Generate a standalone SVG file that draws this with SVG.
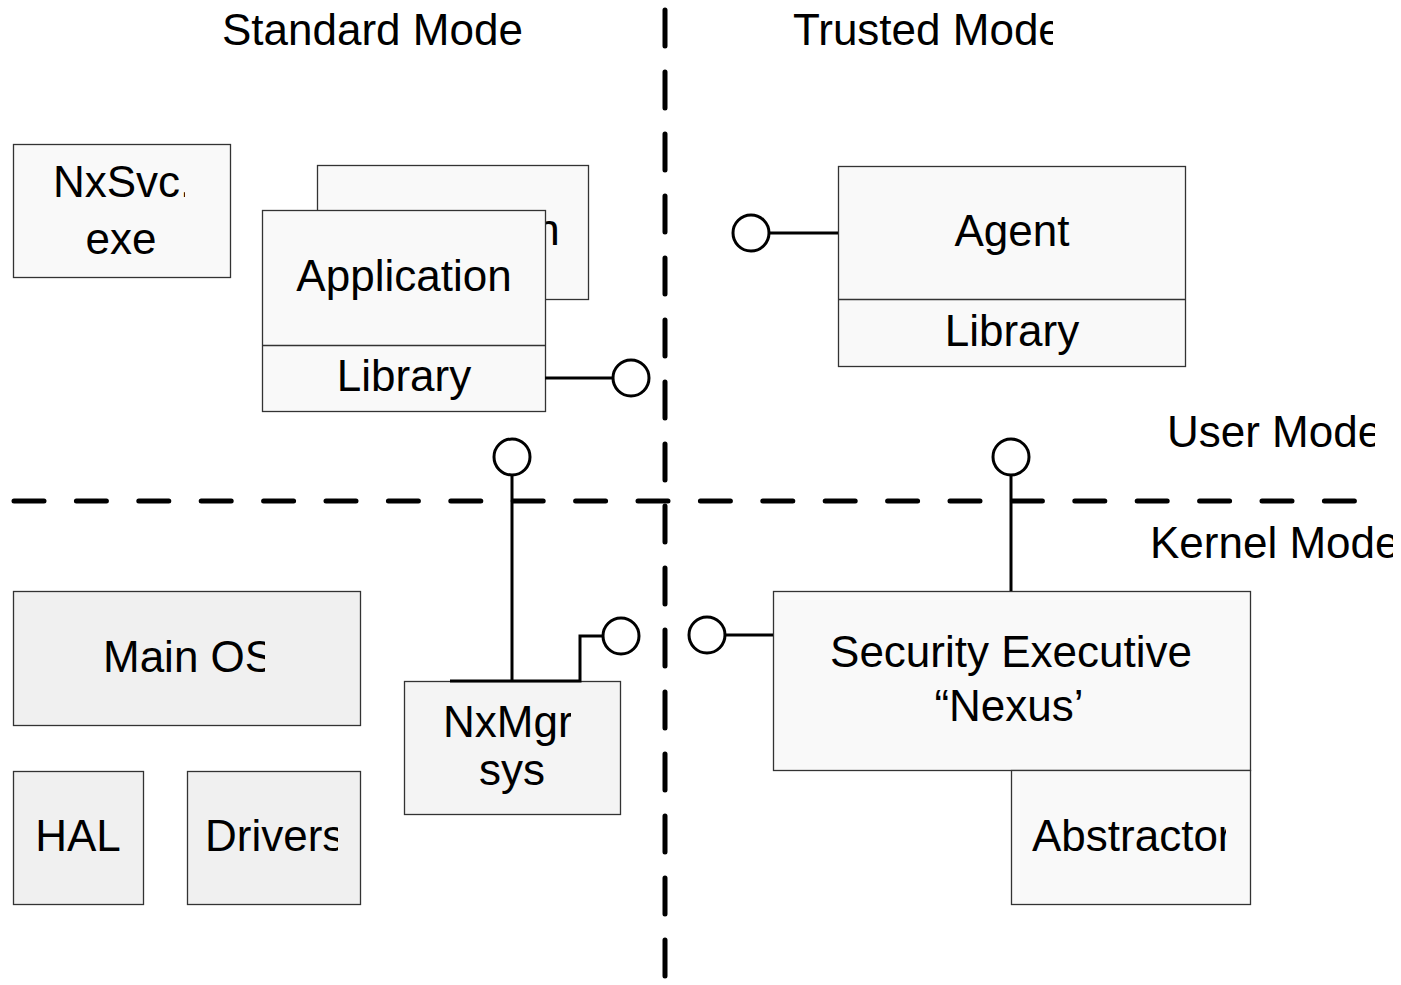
<svg xmlns="http://www.w3.org/2000/svg" width="1401" height="985" viewBox="0 0 1401 985">
  <style>
    text { font-family: "Liberation Sans", Arial, sans-serif; font-size: 44px; fill: #000; }
    .mid { text-anchor: middle; }
    .box { fill: #f9f9f9; stroke: #333; stroke-width: 1.3; }
    .gray { fill: #f0f0f0; stroke: #333; stroke-width: 1.3; }
    .mgr { fill: #f4f4f4; stroke: #333; stroke-width: 1.3; }
    .wire { fill: none; stroke: #000; stroke-width: 3; }
    .port { fill: #fff; stroke: #000; stroke-width: 3; }
    .boundary { fill: none; stroke: #000; stroke-width: 5; stroke-linecap: round; }
  </style>
  <defs>
    <clipPath id="clipTrusted"><rect x="780" y="0" width="273" height="60"/></clipPath>
    <clipPath id="clipUser"><rect x="1150" y="400" width="225" height="60"/></clipPath>
    <clipPath id="clipKernel"><rect x="1140" y="510" width="253" height="60"/></clipPath>
    <clipPath id="clipSvc"><rect x="40" y="150" width="145" height="60"/></clipPath>
    <clipPath id="clipMainOS"><rect x="90" y="620" width="175" height="70"/></clipPath>
    <clipPath id="clipDrivers"><rect x="195" y="800" width="143" height="70"/></clipPath>
    <clipPath id="clipMgr"><rect x="420" y="690" width="151" height="60"/></clipPath>
    <clipPath id="clipAbs"><rect x="1020" y="800" width="206" height="70"/></clipPath>
    <clipPath id="clipBackApp"><rect x="318" y="166" width="270" height="133"/></clipPath>
  </defs>

  <rect width="1401" height="985" fill="#fff"/>

  <!-- mode boundaries -->
  <g id="boundaries">
    <line class="boundary" x1="665" y1="10" x2="665" y2="985" stroke-dasharray="36 26"/>
    <line class="boundary" x1="14" y1="501" x2="1356" y2="501" stroke-dasharray="30 32.4"/>
  </g>

  <!-- region titles -->
  <g id="labels">
    <text x="222" y="45">Standard Mode</text>
    <text x="793" y="45" clip-path="url(#clipTrusted)">Trusted Mode</text>
    <text x="1167" y="447" clip-path="url(#clipUser)">User Mode</text>
    <text x="1150" y="558" clip-path="url(#clipKernel)">Kernel Mode</text>
  </g>

  <!-- standard-mode user components -->
  <g id="nxsvc">
    <rect class="box" x="13.5" y="144.5" width="217" height="133"/>
    <text x="53" y="197" clip-path="url(#clipSvc)">NxSvc.</text>
    <text class="mid" x="121" y="254">exe</text>
  </g>
  <g id="application-back">
    <rect class="box" x="317.5" y="165.5" width="271" height="134"/>
    <text class="mid" x="452" y="245" clip-path="url(#clipBackApp)">Application</text>
  </g>
  <g id="application">
    <rect class="box" x="262.5" y="210.5" width="283" height="201"/>
    <line x1="262.5" y1="345.5" x2="545.5" y2="345.5" stroke="#333" stroke-width="1.3"/>
    <text class="mid" x="404" y="291">Application</text>
    <text class="mid" x="404" y="391">Library</text>
  </g>

  <!-- trusted-mode user components -->
  <g id="agent">
    <rect class="box" x="838.5" y="166.5" width="347" height="200"/>
    <line x1="838.5" y1="299.5" x2="1185.5" y2="299.5" stroke="#333" stroke-width="1.3"/>
    <text class="mid" x="1012" y="246">Agent</text>
    <text class="mid" x="1012" y="346">Library</text>
  </g>

  <!-- standard-mode kernel components -->
  <g id="main-os">
    <rect class="gray" x="13.5" y="591.5" width="347" height="134"/>
    <text x="103" y="672" clip-path="url(#clipMainOS)">Main OS</text>
  </g>
  <g id="hal">
    <rect class="gray" x="13.5" y="771.5" width="130" height="133"/>
    <text class="mid" x="78" y="851">HAL</text>
  </g>
  <g id="drivers">
    <rect class="gray" x="187.5" y="771.5" width="173" height="133"/>
    <text x="205" y="851" clip-path="url(#clipDrivers)">Drivers</text>
  </g>
  <g id="nxmgr">
    <rect class="mgr" x="404.5" y="681.5" width="216" height="133"/>
    <text x="443" y="737" clip-path="url(#clipMgr)">NxMgr</text>
    <text class="mid" x="512" y="785">sys</text>
  </g>

  <!-- trusted-mode kernel components -->
  <g id="nexus">
    <rect class="box" x="773.5" y="591.5" width="477" height="179"/>
    <text class="mid" x="1011" y="667">Security Executive</text>
    <text class="mid" x="1009" y="721">“Nexus’</text>
  </g>
  <g id="abstractor">
    <rect class="box" x="1011.5" y="770.5" width="239" height="134"/>
    <text x="1032" y="851" clip-path="url(#clipAbs)">Abstractor</text>
  </g>

  <!-- interface connectors (lollipops) -->
  <g id="connectors">
    <line class="wire" x1="545" y1="378" x2="613" y2="378"/>
    <circle class="port" cx="631" cy="378" r="18"/>

    <line class="wire" x1="769" y1="233" x2="838" y2="233"/>
    <circle class="port" cx="751" cy="233" r="18"/>

    <line class="wire" x1="512" y1="475" x2="512" y2="681"/>
    <circle class="port" cx="512" cy="457" r="18"/>

    <line class="wire" x1="1011" y1="475" x2="1011" y2="591"/>
    <circle class="port" cx="1011" cy="457" r="18"/>

    <polyline class="wire" points="450,681 580,681 580,636 603,636"/>
    <circle class="port" cx="621" cy="636" r="18"/>

    <line class="wire" x1="725" y1="635" x2="773" y2="635"/>
    <circle class="port" cx="707" cy="635" r="18"/>
  </g>
</svg>
